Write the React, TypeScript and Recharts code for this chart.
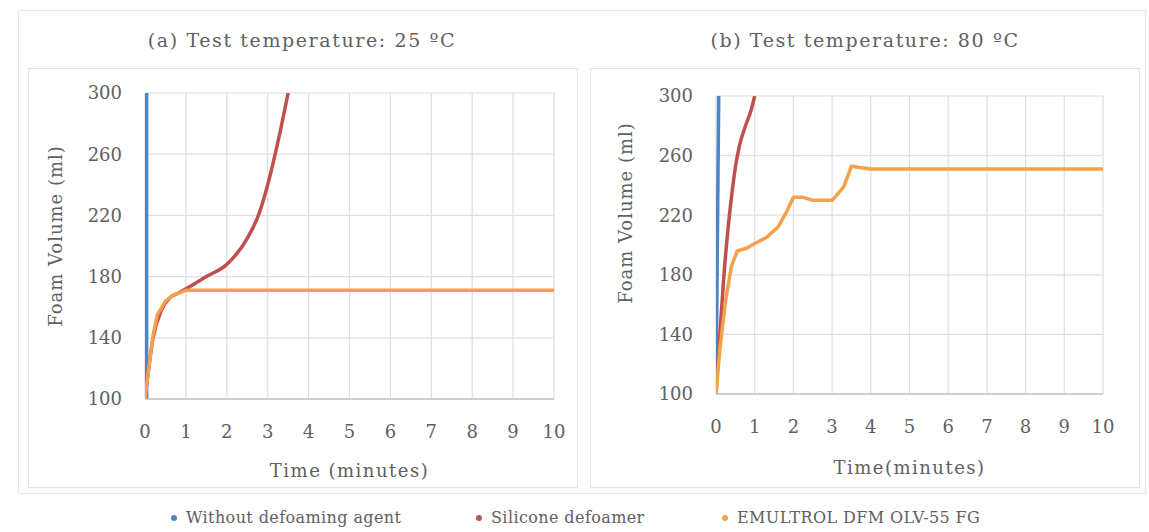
import { CartesianGrid, Line, LineChart, XAxis, YAxis } from "recharts"

const TIME_TICKS = [0, 1, 2, 3, 4, 5, 6, 7, 8, 9, 10]
const VOLUME_TICKS = [100, 140, 180, 220, 260, 300]

// (a) 25 ºC
const blue25Time = [0.04, 0.04]
const blue25Vol = [100, 300]
const red25Time = [0, 0.2, 0.4, 0.6, 0.8, 1, 1.5, 2, 2.5, 2.8, 3, 3.25, 3.5]
const red25Vol = [100, 140, 158, 166, 169, 172, 180, 188, 205, 222, 240, 268, 300]
const orange25Time = [0, 0.1, 0.2, 0.3, 0.5, 0.7, 1, 2, 3, 4, 5, 6, 7, 8, 9, 10]
const orange25Vol = [100, 122, 142, 155, 164, 168, 171, 171, 171, 171, 171, 171, 171, 171, 171, 171]

// (b) 80 ºC
const blue80Time = [0, 0.07]
const blue80Vol = [100, 300]
const red80Time = [0, 0.1, 0.2, 0.3, 0.4, 0.5, 0.6, 0.75, 0.9, 1.0]
const red80Vol = [100, 140, 178, 208, 232, 252, 266, 279, 290, 300]
const orange80Time = [0, 0.1, 0.25, 0.4, 0.55, 0.8, 1.0, 1.3, 1.6, 1.8, 2.0, 2.25, 2.5, 3.0, 3.3, 3.5, 3.7, 4, 5, 6, 7, 8, 9, 10]
const orange80Vol = [100, 130, 163, 186, 196, 198, 201, 205, 212, 221, 232, 232, 230, 230, 239, 253, 252, 251, 251, 251, 251, 251, 251, 251]

const SERIES_NAMES = ["Without defoaming agent", "Silicone defoamer", "EMULTROL DFM OLV-55 FG"]
const COLORS = ["#4a86c8", "#c0504d", "#f5a04a"]

const toPoints = (t: number[], v: number[]) => t.map((time, i) => ({ time, vol: v[i] }))

const FONT = "'DejaVu Serif', serif"
const TEXT = "#606060"

type PanelProps = {
  title: string
  xLabel: string
  left: number
  titleX: number
  plot: { left: number; top: number; right: number; bottom: number }
  yLabelX: number
  yLabelDy: number
  xLabelOffset: number
  series: { time: number[]; vol: number[] }[]
}

function Panel({ title, xLabel, left, titleX, plot, yLabelX, yLabelDy, xLabelOffset, series }: PanelProps) {
  const w = 550
  const h = 420
  return (
    <>
      <div
        style={{
          position: "absolute",
          left: titleX - 250,
          width: 500,
          top: 29,
          textAlign: "center",
          fontFamily: FONT,
          fontSize: 19,
          letterSpacing: 1.6,
          color: TEXT,
        }}
      >
        {title}
      </div>
      <div
        style={{
          position: "absolute",
          left,
          top: 68,
          width: w,
          height: h,
          border: "1px solid #e2e2e2",
          boxSizing: "border-box",
        }}
      >
        <LineChart
          width={w}
          height={h}
          margin={{ top: plot.top, right: plot.right, left: 0, bottom: 0 }}
        >
          <CartesianGrid stroke="#dedede" strokeWidth={1.2} />
          <XAxis
            type="number"
            dataKey="time"
            domain={[0, 10]}
            ticks={TIME_TICKS}
            height={plot.bottom}
            tickLine={false}
            axisLine={{ stroke: "#c4c4c4", strokeWidth: 1.5 }}
            tickMargin={20}
            tick={{ fill: TEXT, fontSize: 18, fontFamily: FONT }}
            allowDataOverflow
            label={{
              value: xLabel,
              position: "insideBottom",
              offset: xLabelOffset,
              fill: TEXT,
              fontSize: 18,
              fontFamily: FONT,
              style: { letterSpacing: 1.5 },
            }}
          />
          <YAxis
            type="number"
            dataKey="vol"
            domain={[100, 300]}
            ticks={VOLUME_TICKS}
            width={plot.left}
            tickLine={false}
            axisLine={false}
            tickMargin={17}
            tick={{ fill: TEXT, fontSize: 18, fontFamily: FONT }}
            allowDataOverflow
            label={{
              value: "Foam Volume (ml)",
              angle: -90,
              position: "insideLeft",
              offset: yLabelX,
              dy: yLabelDy,
              fill: TEXT,
              fontSize: 18,
              fontFamily: FONT,
              style: { textAnchor: "middle", letterSpacing: 1 },
            }}
          />
          {series.map((s, i) => (
            <Line
              key={SERIES_NAMES[i]}
              data={toPoints(s.time, s.vol)}
              dataKey="vol"
              type={i === 1 ? "monotone" : "linear"}
              stroke={COLORS[i]}
              strokeWidth={3.5}
              strokeLinejoin="round"
              dot={false}
              isAnimationActive={false}
            />
          ))}
        </LineChart>
      </div>
    </>
  )
}

export default function App() {
  return (
    <div
      style={{
        position: "absolute",
        left: 0,
        top: 0,
        width: 1149,
        height: 532,
        background: "#fff",
        overflow: "hidden",
      }}
    >
      <div
        style={{
          position: "absolute",
          left: 18,
          top: 10,
          width: 1128,
          height: 484,
          border: "1px solid #e6e6e6",
          boxSizing: "border-box",
        }}
      />
      <Panel
        title="(a) Test temperature: 25 ºC"
        xLabel="Time (minutes)"
        left={28}
        titleX={302}
        plot={{ left: 116, top: 24, right: 25, bottom: 90 }}
        yLabelX={27}
        yLabelDy={-10}
        xLabelOffset={12}
        series={[
          { time: blue25Time, vol: blue25Vol },
          { time: red25Time, vol: red25Vol },
          { time: orange25Time, vol: orange25Vol },
        ]}
      />
      <Panel
        title="(b) Test temperature: 80 ºC"
        xLabel="Time(minutes)"
        left={590}
        titleX={865}
        plot={{ left: 125, top: 27, right: 38, bottom: 95 }}
        yLabelX={35}
        yLabelDy={-32}
        xLabelOffset={15}
        series={[
          { time: blue80Time, vol: blue80Vol },
          { time: red80Time, vol: red80Vol },
          { time: orange80Time, vol: orange80Vol },
        ]}
      />
      {SERIES_NAMES.map((name, i) => (
        <div
          key={name}
          style={{
            position: "absolute",
            left: [171, 476, 722][i],
            top: 508,
            display: "flex",
            alignItems: "center",
            gap: 9,
            fontFamily: FONT,
            fontSize: 16,
            letterSpacing: 0.4,
            color: TEXT,
            whiteSpace: "nowrap",
          }}
        >
          <span
            style={{
              width: 6,
              height: 6,
              borderRadius: 3,
              background: COLORS[i],
              display: "inline-block",
            }}
          />
          {name}
        </div>
      ))}
    </div>
  )
}
